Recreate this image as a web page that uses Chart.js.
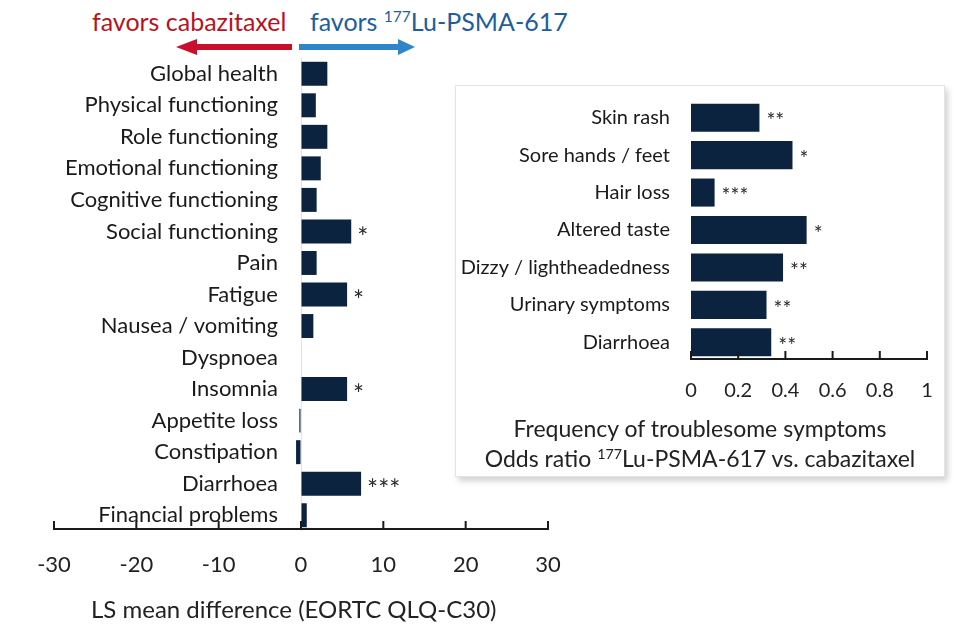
<!DOCTYPE html>
<html>
<head>
<meta charset="utf-8">
<script src="https://cdn.jsdelivr.net/npm/chart.js@4.4.1/dist/chart.umd.min.js"></script>
<style>
  body { margin: 0; width: 970px; height: 644px; background: #fff; position: relative; overflow: hidden; font-family: Lato, "Open Sans", sans-serif; color: #222; }
  .txt { position: absolute; white-space: nowrap; line-height: 1; }
  .red { color: #b8121f; font-size: 25px; }
  .blue { color: #1d5e9b; font-size: 25px; }
  sup { font-size: 0.62em; vertical-align: 0.55em; line-height: 0; }
  #arrows { position: absolute; left: 0; top: 0; }
  #qol { position: absolute; left: 0; top: 0; }
  #box { position: absolute; left: 455px; top: 85px; width: 490px; height: 392px; background: #fff;
         border: 1px solid #e4e4e4; box-shadow: 3px 4px 6px rgba(0,0,0,0.18); box-sizing: border-box; }
  #sym { position: absolute; left: 455px; top: 85px; }
</style>
</head>
<body>
<div class="txt red" style="left:92px; top:9px;">favors cabazitaxel</div>
<div class="txt blue" style="left:310px; top:9px;">favors <sup>177</sup>Lu-PSMA-617</div>
<svg id="arrows" width="440" height="60">
  <polygon points="176,47 197,39 197,44 292,44 292,50 197,50 197,55" fill="#c8102e"/>
  <polygon points="415,47 398,39 398,44 299,44 299,50 398,50 398,55" fill="#2e86c8"/>
</svg>

<canvas id="qol" width="570" height="644"></canvas>
<div class="txt" style="left:91px; top:597px; font-size:24px;">LS mean difference (EORTC QLQ-C30)</div>

<div id="box"></div>
<canvas id="sym" width="490" height="392"></canvas>
<div class="txt" style="left:455px; width:490px; text-align:center; top:417px; font-size:23px;">Frequency of troublesome symptoms</div>
<div class="txt" style="left:455px; width:490px; text-align:center; top:447px; font-size:23px;">Odds ratio <sup>177</sup>Lu-PSMA-617 vs. cabazitaxel</div>

<script>
// EORTC QLQ-C30 domains, LS mean difference
var qolLabels = ['Global health', 'Physical functioning', 'Role functioning', 'Emotional functioning',
  'Cognitive functioning', 'Social functioning', 'Pain', 'Fatigue', 'Nausea / vomiting', 'Dyspnoea',
  'Insomnia', 'Appetite loss', 'Constipation', 'Diarrhoea', 'Financial problems'];
var qolDiff = [3.2, 1.8, 3.2, 2.4, 1.9, 6.1, 1.9, 5.6, 1.5, 0, 5.6, -0.2, -0.6, 7.3, 0.7];
var qolSig = ['', '', '', '', '', '*', '', '*', '', '', '*', '', '', '***', ''];
var qolRange = [-30, 30];

// troublesome symptoms, odds ratio
var symLabels = ['Skin rash', 'Sore hands / feet', 'Hair loss', 'Altered taste',
  'Dizzy / lightheadedness', 'Urinary symptoms', 'Diarrhoea'];
var symOdds = [0.29, 0.43, 0.10, 0.49, 0.39, 0.32, 0.34];
var symSig = ['**', '*', '***', '*', '**', '**', '**'];
var symRange = [0, 1];

var navy = '#0c2340';

// axis line with ticks pointing up into the plot
var upTicks = {
  id: 'upTicks',
  afterDatasetsDraw: function(chart, args, opts) {
    var x = chart.scales.x, ctx = chart.ctx;
    var y0 = chart.chartArea.bottom + opts.offset;
    ctx.save();
    ctx.strokeStyle = '#1a1a1a';
    ctx.lineWidth = 2;
    ctx.beginPath();
    ctx.moveTo(x.left, y0);
    ctx.lineTo(x.right, y0);
    x.ticks.forEach(function(t) {
      var px = x.getPixelForValue(t.value);
      ctx.moveTo(px, y0 + 1);
      ctx.lineTo(px, y0 - opts.len);
    });
    ctx.stroke();
    ctx.restore();
  }
};

// significance asterisks after each bar
var stars = {
  id: 'stars',
  afterDatasetsDraw: function(chart, args, opts) {
    var meta = chart.getDatasetMeta(0), ctx = chart.ctx;
    ctx.save();
    ctx.font = opts.font;
    ctx.fillStyle = '#2a2a2a';
    ctx.textBaseline = 'middle';
    meta.data.forEach(function(bar, i) {
      var s = opts.marks[i];
      if (!s) return;
      ctx.fillText(s, Math.max(bar.x, bar.base) + opts.gap, bar.y + opts.dy);
    });
    ctx.restore();
  }
};

function noPadX(s) { s.paddingLeft = 0; s.paddingRight = 0; }
function noPadY(s) { s.paddingTop = 0; s.paddingBottom = 0; }

new Chart(document.getElementById('qol'), {
  type: 'bar',
  data: {
    labels: qolLabels,
    datasets: [{ data: qolDiff, backgroundColor: navy, barPercentage: 0.76, categoryPercentage: 1 }]
  },
  options: {
    indexAxis: 'y',
    responsive: false,
    animation: false,
    layout: { padding: { left: 54, right: 22, top: 58, bottom: 53 } },
    plugins: {
      legend: { display: false },
      tooltip: { enabled: false },
      upTicks: { offset: -2, len: 8 },
      stars: { marks: qolSig, font: '26px Lato', gap: 6, dy: 7 }
    },
    scales: {
      x: {
        min: qolRange[0], max: qolRange[1],
        grid: {
          drawTicks: false,
          color: function(c) { return c.tick && c.tick.value === 0 ? '#e2e2e2' : 'rgba(0,0,0,0)'; }
        },
        border: { display: false },
        ticks: { stepSize: 10, padding: 21, color: '#222', font: { family: 'Lato', size: 22 } },
        afterFit: function(s) { s.height = 60; noPadX(s); }
      },
      y: {
        position: { x: -2.8 },
        grid: { display: false, drawTicks: false },
        border: { display: false },
        ticks: { color: '#1a1a1a', font: { family: 'Lato', size: 22 } },
        afterFit: function(s) { s.width = 0; noPadY(s); }
      }
    }
  },
  plugins: [upTicks, stars]
});

new Chart(document.getElementById('sym'), {
  type: 'bar',
  data: {
    labels: symLabels,
    datasets: [{ data: symOdds, backgroundColor: navy, barPercentage: 0.75, categoryPercentage: 1 }]
  },
  options: {
    indexAxis: 'y',
    responsive: false,
    animation: false,
    layout: { padding: { left: 0, right: 18, top: 14, bottom: 76 } },
    plugins: {
      legend: { display: false },
      tooltip: { enabled: false },
      upTicks: { offset: -2, len: 8 },
      stars: { marks: symSig, font: '21px Lato', gap: 7, dy: 4 }
    },
    scales: {
      x: {
        min: symRange[0], max: symRange[1],
        grid: { display: false, drawTicks: false },
        border: { display: false },
        ticks: {
          stepSize: 0.2, padding: 18, color: '#222', font: { family: 'Lato', size: 20 },
          callback: function(v) { return String(Math.round(v * 10) / 10); }
        },
        afterFit: function(s) { s.height = 40; noPadX(s); }
      },
      y: {
        grid: { display: false, drawTicks: false },
        border: { display: false },
        ticks: { padding: 21, color: '#1a1a1a', font: { family: 'Lato', size: 20 } },
        afterFit: function(s) { s.width = 236; noPadY(s); }
      }
    }
  },
  plugins: [upTicks, stars]
});
</script>
</body>
</html>
